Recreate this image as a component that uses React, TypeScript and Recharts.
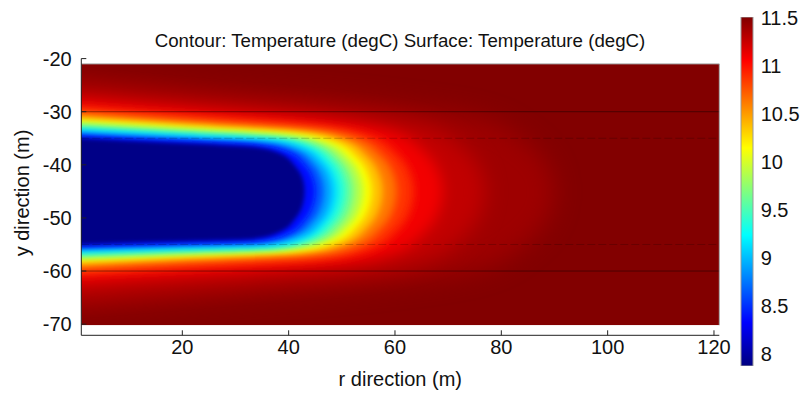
import { ComposedChart, Area, XAxis, YAxis, ReferenceLine, BarChart, Bar } from "recharts";

const R_TICKS = [20, 40, 60, 80, 100, 120];
const Y_TICKS = [-70, -60, -50, -40, -30, -20];
const CBAR_TICKS = [8, 8.5, 9, 9.5, 10, 10.5, 11, 11.5];
const T_MIN = 7.875; // colour range of the surface (colorbar ends)
const T_MAX = 11.51;

// axes range and extent of the computed surface
const AXIS_R = [1, 121];
const AXIS_Y = [-72.1, -20];
const SURFACE_Y = [-70.2, -21];

// boundary lines of the layers
const SOLID_BOUNDARIES = [-30, -60];
const DASHED_BOUNDARIES = [-35, -55];

// isotherms, warm (outer) to cold (inner)
const LEVELS = [11.45, 11.35, 11.2, 11.0, 10.75, 10.5, 10.25, 10.0, 9.75, 9.5, 9.25, 9.0, 8.75, 8.5, 8.25];
const CORE_T = 7.9;

// [y, r] points along each isotherm: top edge -> nose -> bottom edge
const ISO_1145 = [[-23.5, 1], [-26.16, 30.5], [-28.81, 60], [-30.98, 75], [-35.71, 84.57], [-40.81, 88.98], [-45, 90], [-49.45, 88.98], [-54.87, 84.57], [-59.89, 75], [-62.19, 60], [-64.85, 30.5], [-67.5, 1]];
const ISO_1135 = [[-26.0, 1], [-28.34, 27], [-30.68, 53], [-32.6, 65], [-36.78, 72.66], [-41.29, 76.18], [-45, 77], [-48.97, 76.18], [-53.81, 72.66], [-58.28, 65], [-60.34, 53], [-62.42, 27], [-64.5, 1]];
const ISO_1120 = [[-27.8, 1], [-29.84, 25], [-31.88, 49], [-33.64, 59], [-37.47, 65.38], [-41.6, 68.32], [-45, 69], [-48.56, 68.32], [-52.89, 65.38], [-56.9, 59], [-58.74, 49], [-60.37, 25], [-62.0, 1]];
const ISO_1100 = [[-29.2, 1], [-30.96, 23.5], [-32.71, 46], [-34.36, 54.75], [-37.95, 60.33], [-41.82, 62.91], [-45, 63.5], [-48.34, 62.91], [-52.4, 60.33], [-56.17, 54.75], [-57.9, 46], [-59.25, 23.5], [-60.6, 1]];
const ISO_1075 = [[-30.2, 1], [-31.76, 22.7], [-33.32, 44.3], [-34.89, 52.3], [-38.3, 57.4], [-41.97, 59.76], [-45, 60.3], [-48.14, 59.76], [-51.96, 57.4], [-55.5, 52.3], [-57.12, 44.3], [-58.31, 22.7], [-59.5, 1]];
const ISO_1050 = [[-31.0, 1], [-32.4, 21.9], [-33.79, 42.7], [-35.29, 50.2], [-38.57, 54.99], [-42.1, 57.19], [-45, 57.7], [-48.01, 57.19], [-51.67, 54.99], [-55.06, 50.2], [-56.62, 42.7], [-57.66, 21.9], [-58.7, 1]];
const ISO_1025 = [[-31.6, 1], [-32.87, 21.1], [-34.13, 41.2], [-35.59, 48.45], [-38.76, 53.08], [-42.18, 55.21], [-45, 55.7], [-47.91, 55.21], [-51.46, 53.08], [-54.74, 48.45], [-56.25, 41.2], [-57.18, 21.1], [-58.1, 1]];
const ISO_1000 = [[-32.1, 1], [-33.27, 20.5], [-34.44, 40], [-35.86, 47], [-38.94, 51.47], [-42.26, 53.52], [-45, 54], [-47.84, 53.52], [-51.29, 51.47], [-54.49, 47], [-55.96, 40], [-56.78, 20.5], [-57.6, 1]];
const ISO_975 = [[-32.6, 1], [-33.7, 19.9], [-34.79, 38.8], [-36.16, 45.55], [-39.14, 49.86], [-42.36, 51.84], [-45, 52.3], [-47.79, 51.84], [-51.18, 49.86], [-54.32, 45.55], [-55.76, 38.8], [-56.48, 19.9], [-57.2, 1]];
const ISO_950 = [[-33.0, 1], [-34.03, 19.4], [-35.06, 37.8], [-36.39, 44.3], [-39.29, 48.45], [-42.43, 50.36], [-45, 50.8], [-47.72, 50.36], [-51.02, 48.45], [-54.08, 44.3], [-55.51, 37.8], [-56.16, 19.4], [-56.8, 1]];
const ISO_925 = [[-33.4, 1], [-34.37, 19], [-35.33, 36.8], [-36.63, 43.05], [-39.45, 47.04], [-42.5, 48.88], [-45, 49.3], [-47.65, 48.88], [-50.88, 47.04], [-53.88, 43.05], [-55.25, 36.8], [-55.82, 19], [-56.4, 1]];
const ISO_900 = [[-33.8, 1], [-34.71, 18.5], [-35.62, 36], [-36.88, 42], [-39.62, 45.83], [-42.57, 47.59], [-45, 48], [-47.6, 47.59], [-50.77, 45.83], [-53.7, 42], [-54.95, 36], [-55.48, 18.5], [-56.0, 1]];
const ISO_875 = [[-34.2, 1], [-35.05, 18], [-35.9, 35], [-37.12, 40.75], [-39.78, 44.42], [-42.64, 46.11], [-45, 46.5], [-47.51, 46.11], [-50.56, 44.42], [-53.38, 40.75], [-54.68, 35], [-55.19, 18], [-55.7, 1]];
const ISO_850 = [[-34.6, 1], [-35.43, 17.5], [-36.25, 34], [-37.42, 39.5], [-39.98, 43.0], [-42.73, 44.6], [-45, 45], [-47.44, 44.6], [-50.4, 43.0], [-53.15, 39.5], [-54.41, 34], [-54.9, 17.5], [-55.4, 1]];
const ISO_825 = [[-35.0, 1], [-35.8, 17], [-36.6, 33], [-37.7, 38], [-40.2, 41.2], [-42.8, 42.7], [-45, 43], [-47.3, 42.7], [-50.2, 41.2], [-52.8, 38], [-54.0, 33], [-54.5, 17], [-55.0, 1]];

const CONTOURS = [ISO_1145, ISO_1135, ISO_1120, ISO_1100, ISO_1075, ISO_1050, ISO_1025, ISO_1000, ISO_975, ISO_950, ISO_925, ISO_900, ISO_875, ISO_850, ISO_825];

// softening of each band edge (px), wide bands blur more
const BLUR = [12, 10, 7, 5, 4, 3, 3, 3, 3, 3, 3, 3, 2.5, 2.5, 2];

const jet = (v: number) => {
  const t = Math.min(1, Math.max(0, (v - T_MIN) / (T_MAX - T_MIN)));
  const c = (k: number) => Math.round(255 * Math.min(1, Math.max(0, 1.5 - Math.abs(4 * t - k))));
  return `rgb(${c(3)},${c(2)},${c(1)})`;
};

const JET_STOPS = [0, 0.125, 0.375, 0.625, 0.875, 1];

const surfaceData = [
  { y: SURFACE_Y[1], r: AXIS_R[1] },
  { y: SURFACE_Y[0], r: AXIS_R[1] },
];

const bands = LEVELS.map((level, i) => ({
  level,
  color: jet(i < LEVELS.length - 1 ? (level + LEVELS[i + 1]) / 2 : CORE_T),
  rows: CONTOURS[i].map(([y, r]) => ({ y, r })),
}));

const CBAR_DATA = [{ k: "T", range: [T_MIN, T_MAX] }];

const FONT = "'Liberation Sans', Arial, sans-serif";
const tickStyle = { fontSize: 20, fill: "#111" };

// axes frame in pixels
const W = 800;
const H = 395;
const PLOT = { left: 81.3, right: 719.3, top: 58.6, bottom: 335.3 };
const pxPerY = (PLOT.bottom - PLOT.top) / (AXIS_Y[1] - AXIS_Y[0]);
const surfTop = PLOT.top + (AXIS_Y[1] - SURFACE_Y[1]) * pxPerY;
const surfBottom = PLOT.top + (AXIS_Y[1] - SURFACE_Y[0]) * pxPerY;

export default function App() {
  return (
    <div style={{ position: "fixed", left: 0, top: 0, width: W, height: H, background: "#fff", fontFamily: FONT }}>
      <svg width={0} height={0} style={{ position: "absolute" }}>
        <defs>
          {BLUR.map((s, i) => (
            <filter key={i} id={`soft-${i}`} x="-25%" y="-45%" width="150%" height="190%">
              <feGaussianBlur stdDeviation={s} />
            </filter>
          ))}
          <linearGradient id="jetGrad" x1="0" y1="1" x2="0" y2="0">
            {JET_STOPS.map((t) => (
              <stop key={t} offset={t} stopColor={jet(T_MIN + t * (T_MAX - T_MIN))} />
            ))}
          </linearGradient>
        </defs>
      </svg>

      <div
        style={{
          position: "absolute",
          left: 0,
          top: 30.7,
          width: W,
          textAlign: "center",
          fontSize: 18.7,
          lineHeight: "19px",
          color: "#111",
          whiteSpace: "nowrap",
        }}
      >
        Contour: Temperature (degC) Surface: Temperature (degC)
      </div>

      <div
        style={{
          position: "absolute",
          left: 22,
          top: 193,
          transform: "translate(-50%, -50%) rotate(-90deg)",
          fontSize: 20,
          lineHeight: "20px",
          color: "#111",
          whiteSpace: "nowrap",
        }}
      >
        y direction (m)
      </div>

      {/* surface: plot area is exactly the computed domain, so soft edges stay inside it */}
      <div style={{ position: "absolute", left: 0, top: 0 }}>
        <ComposedChart
          layout="vertical"
          width={W}
          height={H}
          margin={{ top: surfTop, right: W - PLOT.right, bottom: H - surfBottom, left: PLOT.left }}
        >
          <XAxis type="number" domain={AXIS_R} allowDataOverflow hide />
          <YAxis type="number" dataKey="y" domain={SURFACE_Y} reversed allowDataOverflow hide />
          <Area
            data={surfaceData}
            dataKey="r"
            type="linear"
            baseValue={AXIS_R[0]}
            fill={jet(11.5)}
            fillOpacity={1}
            stroke="none"
            isAnimationActive={false}
          />
          {bands.map((b, i) => (
            <Area
              key={b.level}
              data={b.rows}
              dataKey="r"
              type="monotone"
              baseValue={-10}
              fill={b.color}
              fillOpacity={1}
              stroke="none"
              filter={`url(#soft-${i})`}
              isAnimationActive={false}
            />
          ))}
          {SOLID_BOUNDARIES.map((y) => (
            <ReferenceLine key={y} y={y} stroke="rgba(0,0,0,0.42)" strokeWidth={1} />
          ))}
          {DASHED_BOUNDARIES.map((y) => (
            <ReferenceLine key={y} y={y} stroke="rgba(0,0,0,0.2)" strokeWidth={1} strokeDasharray="8 3" />
          ))}
          <ReferenceLine y={SURFACE_Y[1]} stroke="#a0a0a0" strokeWidth={1} />
          <ReferenceLine x={AXIS_R[1]} stroke="#a0a0a0" strokeWidth={1} />
        </ComposedChart>
      </div>

      {/* axes */}
      <div style={{ position: "absolute", left: 0, top: 0 }}>
        <ComposedChart
          layout="vertical"
          width={W}
          height={H}
          margin={{ top: PLOT.top, right: W - PLOT.right, bottom: 0, left: 0 }}
        >
          <XAxis
            type="number"
            domain={AXIS_R}
            allowDataOverflow
            ticks={R_TICKS}
            interval={0}
            height={H - PLOT.bottom}
            tickSize={-5}
            tickMargin={9.7}
            stroke="#222"
            tick={tickStyle}
            label={{ value: "r direction (m)", position: "insideBottom", offset: 9, fontSize: 20, fill: "#111" }}
          />
          <YAxis
            type="number"
            dataKey="y"
            domain={AXIS_Y}
            reversed
            allowDataOverflow
            ticks={Y_TICKS}
            interval={0}
            width={PLOT.left}
            tickSize={-5}
            tickMargin={14.6}
            stroke="#222"
            tick={tickStyle}
          />
        </ComposedChart>
      </div>

      <div style={{ position: "absolute", left: 720, top: 0 }}>
        <BarChart
          width={80}
          height={H}
          data={CBAR_DATA}
          margin={{ top: 17, right: 0, bottom: 29, left: 0 }}
          barCategoryGap={0}
        >
          <XAxis dataKey="k" hide />
          <YAxis
            yAxisId="l"
            orientation="left"
            type="number"
            width={21}
            domain={[T_MIN, T_MAX]}
            allowDataOverflow
            ticks={CBAR_TICKS}
            interval={0}
            tick={false}
            tickSize={-4}
            axisLine={false}
            stroke="#333"
          />
          <YAxis
            yAxisId="r"
            orientation="right"
            type="number"
            width={47}
            domain={[T_MIN, T_MAX]}
            allowDataOverflow
            ticks={CBAR_TICKS}
            interval={0}
            tickLine={false}
            axisLine={false}
            tickSize={0}
            tickMargin={7.7}
            tick={tickStyle}
          />
          <Bar yAxisId="r" dataKey="range" fill="url(#jetGrad)" stroke="#9a9a9a" isAnimationActive={false} />
        </BarChart>
      </div>
    </div>
  );
}
